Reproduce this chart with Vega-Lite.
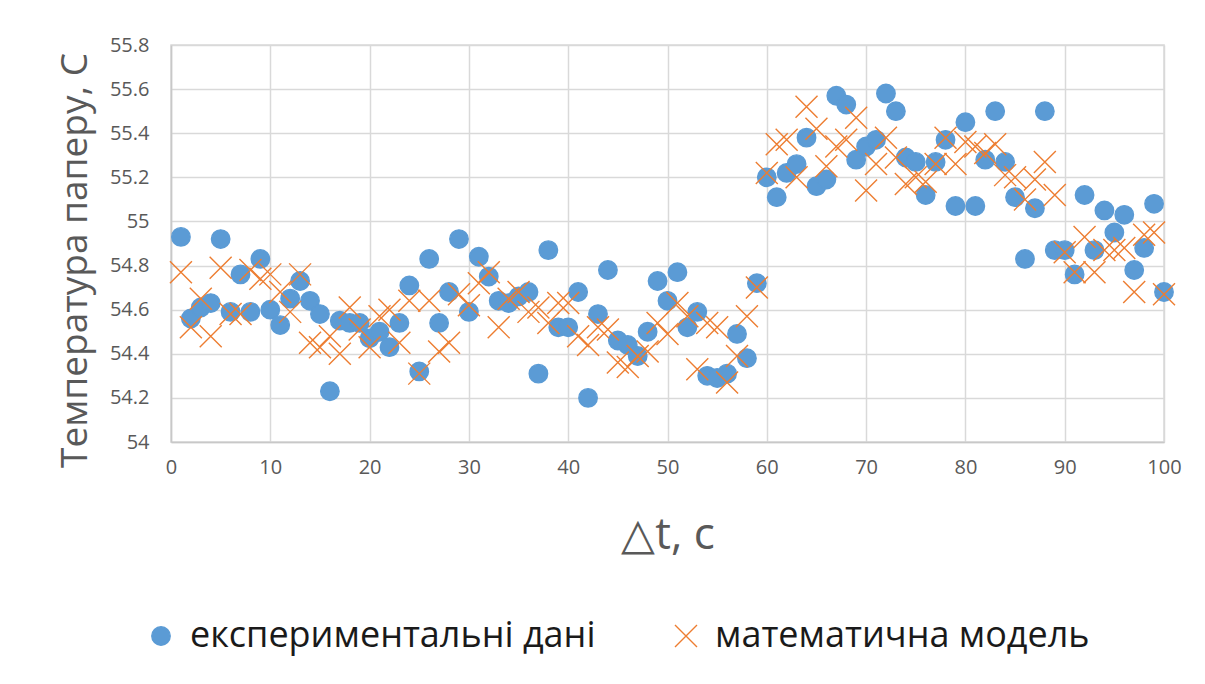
{
  "$schema": "https://vega.github.io/schema/vega-lite/v6.json",
  "width": 993,
  "height": 397,
  "autosize": {"type": "none"},
  "padding": {"left": 171, "top": 45, "right": 41, "bottom": 242},
  "background": "white",
  "config": {
    "font": "Open Sans",
    "view": {"stroke": "#d9d9d9", "strokeWidth": 1.5}
  },
  "data": {
    "values": [
      {"t":1,"s":"a","v":54.93},{"t":2,"s":"a","v":54.56},{"t":3,"s":"a","v":54.61},{"t":4,"s":"a","v":54.63},{"t":5,"s":"a","v":54.92},
      {"t":6,"s":"a","v":54.59},{"t":7,"s":"a","v":54.76},{"t":8,"s":"a","v":54.59},{"t":9,"s":"a","v":54.83},{"t":10,"s":"a","v":54.60},
      {"t":11,"s":"a","v":54.53},{"t":12,"s":"a","v":54.65},{"t":13,"s":"a","v":54.73},{"t":14,"s":"a","v":54.64},{"t":15,"s":"a","v":54.58},
      {"t":16,"s":"a","v":54.23},{"t":17,"s":"a","v":54.55},{"t":18,"s":"a","v":54.54},{"t":19,"s":"a","v":54.54},{"t":20,"s":"a","v":54.47},
      {"t":21,"s":"a","v":54.50},{"t":22,"s":"a","v":54.43},{"t":23,"s":"a","v":54.54},{"t":24,"s":"a","v":54.71},{"t":25,"s":"a","v":54.32},
      {"t":26,"s":"a","v":54.83},{"t":27,"s":"a","v":54.54},{"t":28,"s":"a","v":54.68},{"t":29,"s":"a","v":54.92},{"t":30,"s":"a","v":54.59},
      {"t":31,"s":"a","v":54.84},{"t":32,"s":"a","v":54.75},{"t":33,"s":"a","v":54.64},{"t":34,"s":"a","v":54.63},{"t":35,"s":"a","v":54.66},
      {"t":36,"s":"a","v":54.68},{"t":37,"s":"a","v":54.31},{"t":38,"s":"a","v":54.87},{"t":39,"s":"a","v":54.52},{"t":40,"s":"a","v":54.52},
      {"t":41,"s":"a","v":54.68},{"t":42,"s":"a","v":54.20},{"t":43,"s":"a","v":54.58},{"t":44,"s":"a","v":54.78},{"t":45,"s":"a","v":54.46},
      {"t":46,"s":"a","v":54.44},{"t":47,"s":"a","v":54.39},{"t":48,"s":"a","v":54.50},{"t":49,"s":"a","v":54.73},{"t":50,"s":"a","v":54.64},
      {"t":51,"s":"a","v":54.77},{"t":52,"s":"a","v":54.52},{"t":53,"s":"a","v":54.59},{"t":54,"s":"a","v":54.30},{"t":55,"s":"a","v":54.29},
      {"t":56,"s":"a","v":54.31},{"t":57,"s":"a","v":54.49},{"t":58,"s":"a","v":54.38},{"t":59,"s":"a","v":54.72},{"t":60,"s":"a","v":55.20},
      {"t":61,"s":"a","v":55.11},{"t":62,"s":"a","v":55.22},{"t":63,"s":"a","v":55.26},{"t":64,"s":"a","v":55.38},{"t":65,"s":"a","v":55.16},
      {"t":66,"s":"a","v":55.19},{"t":67,"s":"a","v":55.57},{"t":68,"s":"a","v":55.53},{"t":69,"s":"a","v":55.28},{"t":70,"s":"a","v":55.34},
      {"t":71,"s":"a","v":55.37},{"t":72,"s":"a","v":55.58},{"t":73,"s":"a","v":55.50},{"t":74,"s":"a","v":55.29},{"t":75,"s":"a","v":55.27},
      {"t":76,"s":"a","v":55.12},{"t":77,"s":"a","v":55.27},{"t":78,"s":"a","v":55.37},{"t":79,"s":"a","v":55.07},{"t":80,"s":"a","v":55.45},
      {"t":81,"s":"a","v":55.07},{"t":82,"s":"a","v":55.28},{"t":83,"s":"a","v":55.50},{"t":84,"s":"a","v":55.27},{"t":85,"s":"a","v":55.11},
      {"t":86,"s":"a","v":54.83},{"t":87,"s":"a","v":55.06},{"t":88,"s":"a","v":55.50},{"t":89,"s":"a","v":54.87},{"t":90,"s":"a","v":54.87},
      {"t":91,"s":"a","v":54.76},{"t":92,"s":"a","v":55.12},{"t":93,"s":"a","v":54.87},{"t":94,"s":"a","v":55.05},{"t":95,"s":"a","v":54.95},
      {"t":96,"s":"a","v":55.03},{"t":97,"s":"a","v":54.78},{"t":98,"s":"a","v":54.88},{"t":99,"s":"a","v":55.08},{"t":100,"s":"a","v":54.68},
      {"t":1,"s":"b","v":54.77},{"t":2,"s":"b","v":54.52},{"t":3,"s":"b","v":54.65},{"t":4,"s":"b","v":54.48},{"t":5,"s":"b","v":54.79},
      {"t":6,"s":"b","v":54.58},{"t":7,"s":"b","v":54.58},{"t":8,"s":"b","v":54.78},{"t":9,"s":"b","v":54.74},{"t":10,"s":"b","v":54.76},
      {"t":11,"s":"b","v":54.68},{"t":12,"s":"b","v":54.59},{"t":13,"s":"b","v":54.76},{"t":14,"s":"b","v":54.45},{"t":15,"s":"b","v":54.43},
      {"t":16,"s":"b","v":54.48},{"t":17,"s":"b","v":54.40},{"t":18,"s":"b","v":54.61},{"t":19,"s":"b","v":54.51},{"t":20,"s":"b","v":54.43},
      {"t":21,"s":"b","v":54.57},{"t":22,"s":"b","v":54.60},{"t":23,"s":"b","v":54.45},{"t":24,"s":"b","v":54.64},{"t":25,"s":"b","v":54.31},
      {"t":26,"s":"b","v":54.64},{"t":27,"s":"b","v":54.41},{"t":28,"s":"b","v":54.45},{"t":29,"s":"b","v":54.67},{"t":30,"s":"b","v":54.62},
      {"t":31,"s":"b","v":54.72},{"t":32,"s":"b","v":54.77},{"t":33,"s":"b","v":54.52},{"t":34,"s":"b","v":54.65},{"t":35,"s":"b","v":54.68},
      {"t":36,"s":"b","v":54.59},{"t":37,"s":"b","v":54.61},{"t":38,"s":"b","v":54.54},{"t":39,"s":"b","v":54.63},{"t":40,"s":"b","v":54.63},
      {"t":41,"s":"b","v":54.48},{"t":42,"s":"b","v":54.44},{"t":43,"s":"b","v":54.52},{"t":44,"s":"b","v":54.51},{"t":45,"s":"b","v":54.36},
      {"t":46,"s":"b","v":54.34},{"t":47,"s":"b","v":54.39},{"t":48,"s":"b","v":54.41},{"t":49,"s":"b","v":54.54},{"t":50,"s":"b","v":54.49},
      {"t":51,"s":"b","v":54.63},{"t":52,"s":"b","v":54.57},{"t":53,"s":"b","v":54.33},{"t":54,"s":"b","v":54.54},{"t":55,"s":"b","v":54.52},
      {"t":56,"s":"b","v":54.27},{"t":57,"s":"b","v":54.39},{"t":58,"s":"b","v":54.57},{"t":59,"s":"b","v":54.70},{"t":60,"s":"b","v":55.22},
      {"t":61,"s":"b","v":55.35},{"t":62,"s":"b","v":55.37},{"t":63,"s":"b","v":55.20},{"t":64,"s":"b","v":55.52},{"t":65,"s":"b","v":55.42},
      {"t":66,"s":"b","v":55.25},{"t":67,"s":"b","v":55.34},{"t":68,"s":"b","v":55.37},{"t":69,"s":"b","v":55.47},{"t":70,"s":"b","v":55.14},
      {"t":71,"s":"b","v":55.26},{"t":72,"s":"b","v":55.38},{"t":73,"s":"b","v":55.29},{"t":74,"s":"b","v":55.17},{"t":75,"s":"b","v":55.20},
      {"t":76,"s":"b","v":55.18},{"t":77,"s":"b","v":55.26},{"t":78,"s":"b","v":55.38},{"t":79,"s":"b","v":55.26},{"t":80,"s":"b","v":55.36},
      {"t":81,"s":"b","v":55.34},{"t":82,"s":"b","v":55.31},{"t":83,"s":"b","v":55.35},{"t":84,"s":"b","v":55.21},{"t":85,"s":"b","v":55.20},
      {"t":86,"s":"b","v":55.10},{"t":87,"s":"b","v":55.19},{"t":88,"s":"b","v":55.27},{"t":89,"s":"b","v":55.12},{"t":90,"s":"b","v":54.86},
      {"t":91,"s":"b","v":54.77},{"t":92,"s":"b","v":54.93},{"t":93,"s":"b","v":54.77},{"t":94,"s":"b","v":54.87},{"t":95,"s":"b","v":54.87},
      {"t":96,"s":"b","v":54.88},{"t":97,"s":"b","v":54.68},{"t":98,"s":"b","v":54.94},{"t":99,"s":"b","v":54.95},{"t":100,"s":"b","v":54.67}
    ]
  },
  "mark": {"type": "point", "filled": true, "strokeWidth": 1.4, "opacity": 1},
  "encoding": {
    "x": {
      "field": "t", "type": "quantitative",
      "scale": {"domain": [0, 100], "nice": false},
      "axis": {
        "values": [0, 10, 20, 30, 40, 50, 60, 70, 80, 90, 100],
        "grid": true, "gridColor": "#d9d9d9", "gridWidth": 1.5,
        "domainColor": "#c8c8c8", "domainWidth": 1.5, "ticks": false,
        "labelFlush": false, "labelOverlap": false,
        "labelFontSize": 20, "labelColor": "#595959", "labelPadding": 15,
        "title": "△t, с", "titleFontSize": 44, "titleFontWeight": "normal", "titleColor": "#595959",
        "titleY": 93, "titleBaseline": "middle"
      }
    },
    "y": {
      "field": "v", "type": "quantitative",
      "scale": {"domain": [54, 55.8], "nice": false, "zero": false},
      "axis": {
        "values": [54, 54.2, 54.4, 54.6, 54.8, 55, 55.2, 55.4, 55.6, 55.8],
        "format": ".1~f",
        "grid": true, "gridColor": "#d9d9d9", "gridWidth": 1.5,
        "domainColor": "#c8c8c8", "domainWidth": 1.5, "ticks": false,
        "labelFlush": false, "labelOverlap": false,
        "labelFontSize": 20, "labelColor": "#595959", "labelPadding": 22,
        "title": "Температура паперу, С", "titleFontSize": 37, "titleFontWeight": "normal", "titleColor": "#595959",
        "titleX": -96, "titleY": 215, "titleAngle": -90, "titleBaseline": "middle", "titleAlign": "center"
      }
    },
    "color": {
      "field": "s", "type": "nominal",
      "scale": {"domain": ["a", "b"], "range": ["#5B9BD5", "#ED7D31"]},
      "legend": {
        "orient": "none", "legendX": -28, "legendY": 573, "direction": "horizontal", "title": null,
        "labelExpr": "datum.label == 'a' ? 'експериментальні дані' : 'математична модель'",
        "labelFontSize": 36, "labelColor": "#1a1a1a", "labelFont": "Open Sans", "labelLimit": 0,
        "symbolSize": 324, "symbolStrokeWidth": 1.4, "labelOffset": 11, "columnPadding": 72
      }
    },
    "stroke": {
      "field": "s", "type": "nominal",
      "scale": {"domain": ["a", "b"], "range": ["#5B9BD5", "#ED7D31"]},
      "legend": {
        "orient": "none", "legendX": -28, "legendY": 573, "direction": "horizontal", "title": null,
        "labelExpr": "datum.label == 'a' ? 'експериментальні дані' : 'математична модель'",
        "labelFontSize": 36, "labelColor": "#1a1a1a", "labelFont": "Open Sans", "labelLimit": 0,
        "symbolSize": 324, "symbolStrokeWidth": 1.4, "labelOffset": 11, "columnPadding": 72
      }
    },
    "shape": {
      "field": "s", "type": "nominal",
      "scale": {"domain": ["a", "b"], "range": ["circle", "M-1,-1L1,1M-1,1L1,-1"]},
      "legend": {
        "orient": "none", "legendX": -28, "legendY": 573, "direction": "horizontal", "title": null,
        "labelExpr": "datum.label == 'a' ? 'експериментальні дані' : 'математична модель'",
        "labelFontSize": 36, "labelColor": "#1a1a1a", "labelFont": "Open Sans", "labelLimit": 0,
        "symbolSize": 324, "symbolStrokeWidth": 1.4, "labelOffset": 11, "columnPadding": 72
      }
    },
    "size": {
      "field": "s", "type": "nominal",
      "scale": {"domain": ["a", "b"], "range": [340, 484]},
      "legend": null
    },
    "order": {"field": "s"}
  }
}
